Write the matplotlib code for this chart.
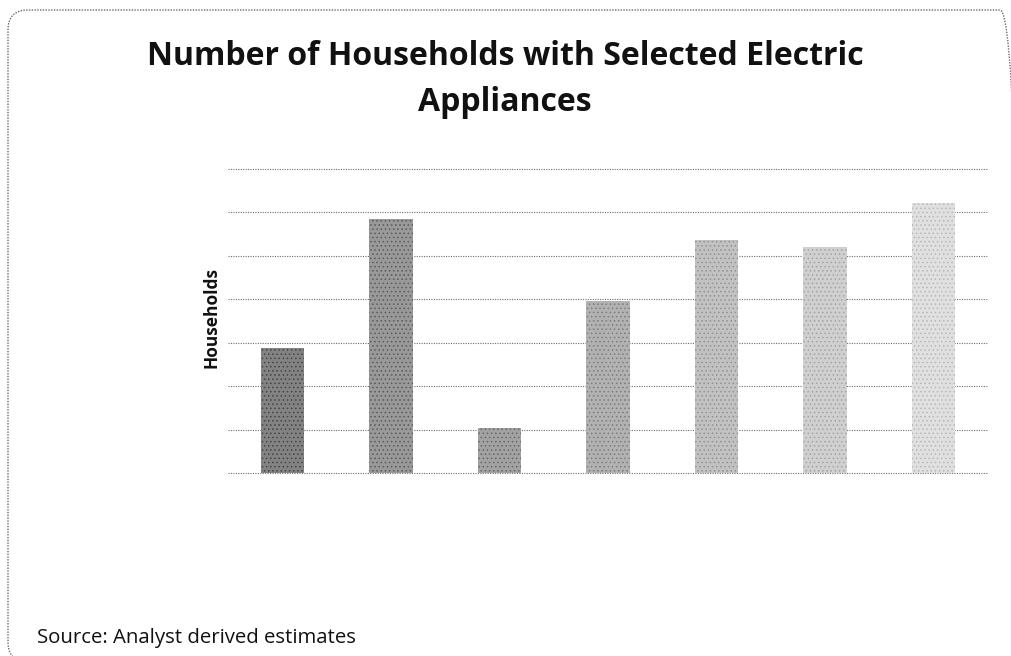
import matplotlib
matplotlib.use("Agg")
import matplotlib.pyplot as plt
from matplotlib.patches import FancyBboxPatch

# Households owning each appliance (relative units, no category labels shown)
appliances = ["A1", "A2", "A3", "A4", "A5", "A6", "A7"]
households = [2.87, 5.84, 1.03, 3.95, 5.36, 5.21, 6.21]
grid_levels = [0, 1, 2, 3, 4, 5, 6, 7]

face_colors = ["#838383", "#999999", "#a2a2a2", "#b2b2b2", "#c2c2c2", "#d0d0d0", "#e0e0e0"]
grain_colors = ["#454545", "#5a5a5a", "#666666", "#7c7c7c", "#929292", "#a4a4a4", "#b8b8b8"]

title_lines = ["Number of Households with Selected Electric", "Appliances"]
ylabel_text = "Households"
source_text = "Source: Analyst derived estimates"

plt.rcParams["font.family"] = ["Open Sans", "DejaVu Sans"]
plt.rcParams["hatch.linewidth"] = 0.6

W, H = 1011, 656
fig = plt.figure(figsize=(W / 100, H / 100), dpi=100)
fig.patch.set_facecolor("white")

# rounded outer frame (inches, so the corner radius stays circular)
frame = FancyBboxPatch((0.08, -0.06), 10.12, 6.52,
                       boxstyle="round,pad=0,rounding_size=0.2",
                       transform=fig.dpi_scale_trans, facecolor="none",
                       edgecolor="#6a6a6a", linewidth=1.0, linestyle=(0, (1, 1)))
fig.patches.append(frame)

ax = fig.add_axes([228 / W, 1 - 473 / H, 760 / W, (473 - 169) / H])
x = list(range(len(appliances)))
for xi, val, fc, gc in zip(x, households, face_colors, grain_colors):
    ax.bar(xi, val, width=0.4, color=fc, edgecolor=gc, linewidth=0,
           hatch="....", zorder=3)

for g in grid_levels:
    ax.axhline(g, color="#6e6e6e", linewidth=0.8, linestyle=(0, (1, 1.2)),
               zorder=1, clip_on=False)

ax.set_xlim(-0.5, len(appliances) - 0.5)
ax.set_ylim(0, 7)
ax.set_xticks([])
ax.set_yticks([])
for s in ax.spines.values():
    s.set_visible(False)
ax.set_facecolor("none")

# two-line title, placed by baseline
for line, base in zip(title_lines, [65, 111]):
    fig.text(505 / W, 1 - base / H, line, ha="center", va="baseline",
             fontsize=23, fontweight="bold", color="#111111")

fig.text(211 / W, 1 - 318 / H, ylabel_text, rotation=90, ha="center",
         va="center", fontsize=12.5, fontweight="bold", color="#111111")

fig.text(37 / W, 1 - 643 / H, source_text, ha="left", va="baseline",
         fontsize=14.7, color="#111111")

fig.savefig("out.png", dpi=100, facecolor="white")
